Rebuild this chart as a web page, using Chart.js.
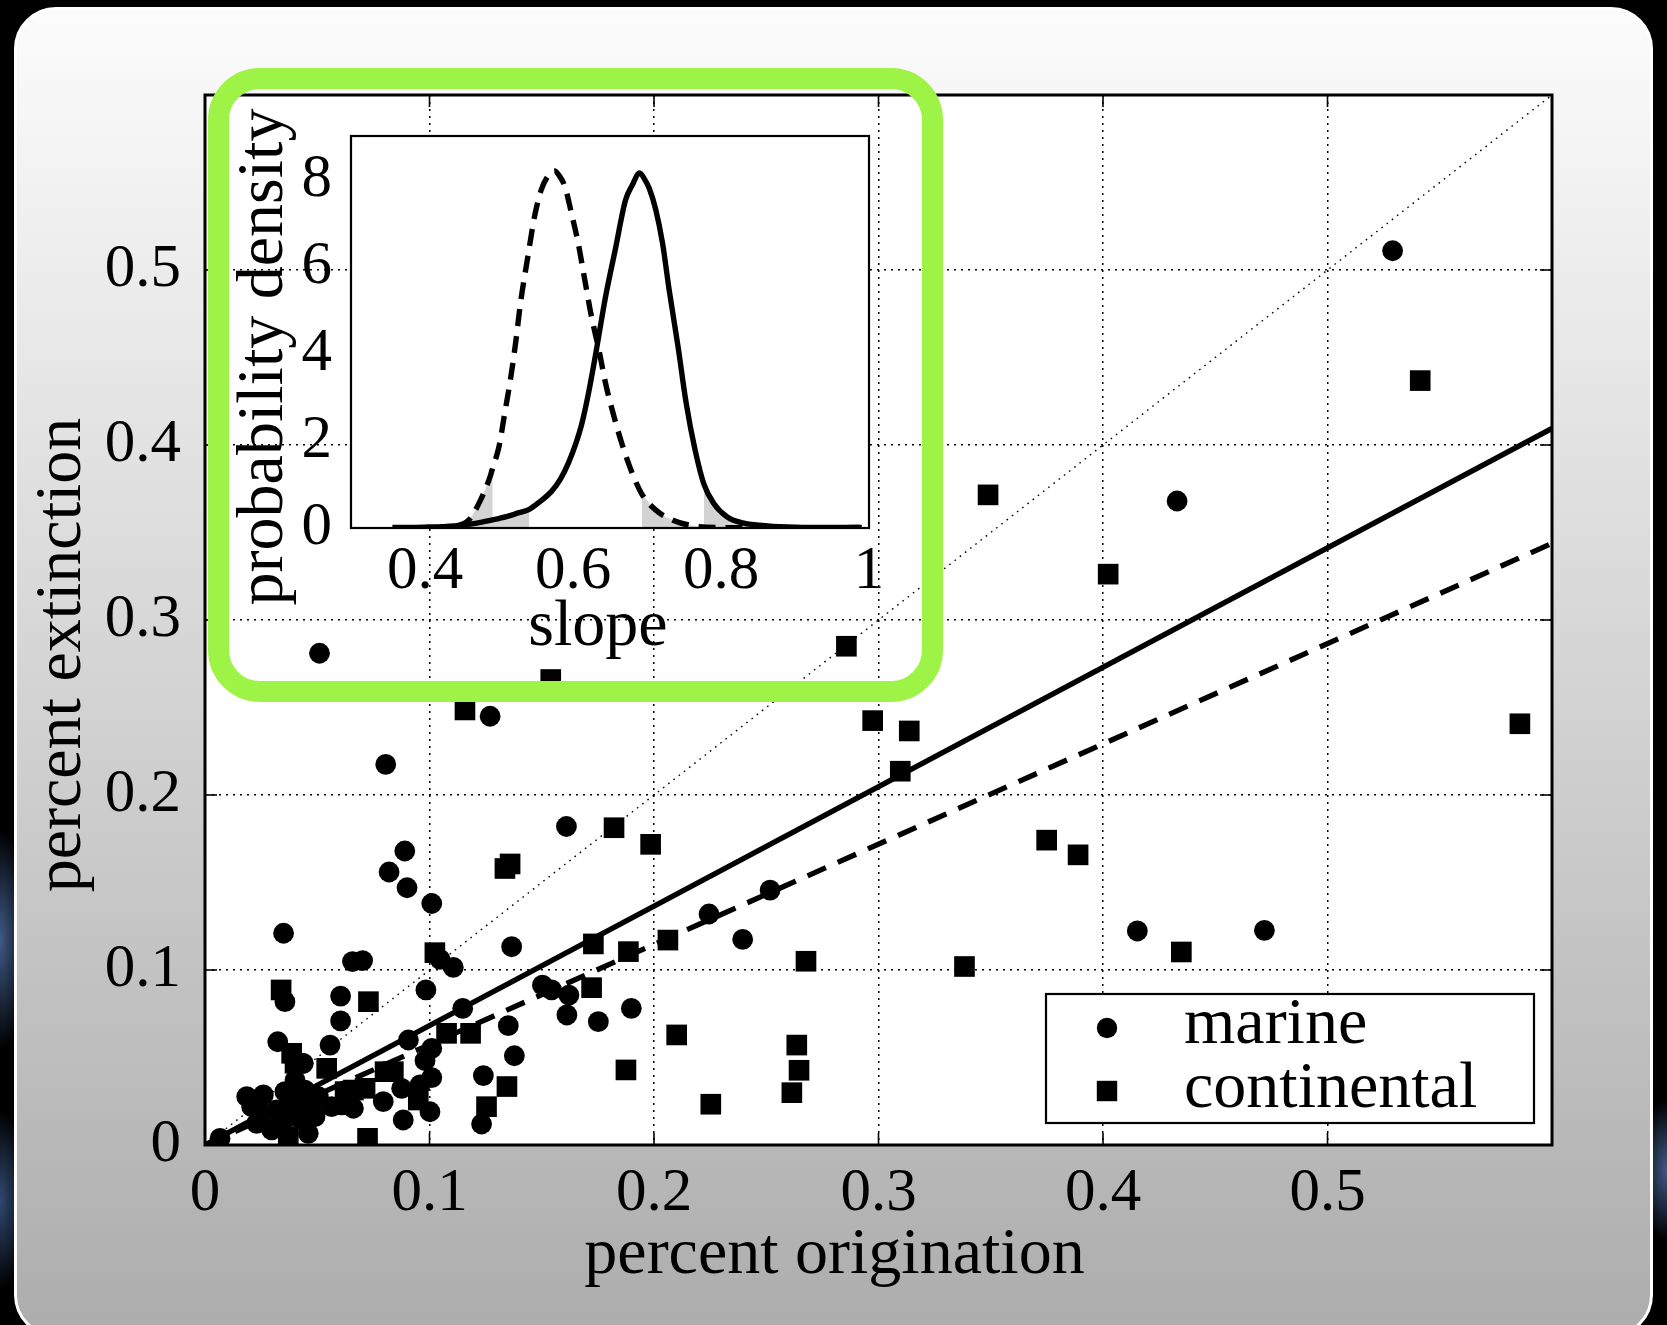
<!DOCTYPE html>
<html>
<head>
<meta charset="utf-8">
<script src="https://cdn.jsdelivr.net/npm/chart.js@4.4.0/dist/chart.umd.min.js"></script>
<style>
html,body{margin:0;padding:0;width:1667px;height:1325px;overflow:hidden;}
body{background:
  radial-gradient(30px 110px at 0px 940px, rgba(70,100,150,0.9), rgba(0,0,0,0)),
  radial-gradient(30px 90px at 0px 1200px, rgba(60,90,140,0.8), rgba(0,0,0,0)),
  radial-gradient(30px 70px at 1667px 1170px, rgba(70,100,150,0.9), rgba(0,0,0,0)),
  #000;position:relative;}
#panel{position:absolute;left:14px;top:7px;width:1639px;height:1330px;box-sizing:border-box;
  border:3px solid #fff;border-radius:42px;
  background:linear-gradient(to bottom,#fcfcfc 0px,#adadad 1318px);}
canvas{position:absolute;left:0;top:0;}
#greenbox{position:absolute;left:208px;top:68px;width:735px;height:634px;box-sizing:border-box;
  border:21px solid #9ef446;border-radius:52px;pointer-events:none;}
</style>
</head>
<body>
<div id="panel"></div>
<canvas id="mainChart" width="1667" height="1325"></canvas>
<canvas id="insetChart" width="1667" height="1325"></canvas>
<div id="greenbox"></div>
<script>
// ---------------- DATA ----------------
const legendLabels = ['marine', 'continental'];
const xAxisTitle = 'percent origination';
const yAxisTitle = 'percent extinction';
const xTickValues = [0, 0.1, 0.2, 0.3, 0.4, 0.5, 0.6];
const xTickLabels = ['0', '0.1', '0.2', '0.3', '0.4', '0.5', ''];
const yTickValues = [0, 0.1, 0.2, 0.3, 0.4, 0.5, 0.6];
const yTickLabels = ['0', '0.1', '0.2', '0.3', '0.4', '0.5', ''];

const marineOrigination = [0.051,0.529,0.433,0.127,0.0805,0.161,0.089,0.082,0.090,0.101,0.035,0.2517,0.2245,0.2395,0.1366,0.4153,0.4719,
  0.0657,0.0702,0.1047,0.1106,0.0984,0.1503,0.1544,0.1621,0.1148,0.1899,0.1612,0.1752,0.1351,0.0604,0.0604,0.0356,0.0906,0.101,0.1378,
  0.098,0.124,0.101,0.0324,0.0557,0.0438,0.0876,0.0958,0.0794,0.0883,0.1002,0.1232,0.0661,0.0609,0.0564,0.0475,0.046,0.0297,0.0186,
  0.026,0.023,0.0067,0.0356,0.0401,0.0445,0.0319,0.0371,0.0505,0.026,0.0208,0.0393,0.043,0.049];
const marineExtinction = [0.281,0.511,0.368,0.245,0.2175,0.182,0.168,0.156,0.147,0.138,0.121,0.1457,0.132,0.1175,0.1133,0.1223,0.1227,
  0.1048,0.1054,0.1061,0.1015,0.0886,0.0914,0.0886,0.0857,0.0781,0.0781,0.0743,0.0705,0.0682,0.0851,0.0709,0.0819,0.060,0.0552,0.051,
  0.0482,0.0397,0.0385,0.059,0.0571,0.0467,0.0324,0.0343,0.0248,0.0143,0.019,0.012,0.021,0.0229,0.0219,0.0219,0.0067,0.0086,0.0276,
  0.0286,0.0124,0.0038,0.0305,0.0371,0.0314,0.020,0.0162,0.0276,0.018,0.0219,0.0257,0.0143,0.0162];

const continentalOrigination = [0.5413,0.3488,0.4023,0.2857,0.154,0.1158,0.2974,0.3137,0.3097,0.5857,0.1822,0.1985,0.1336,0.1359,0.3749,
  0.3889,0.173,0.1886,0.2062,0.1024,0.2677,0.3383,0.4349,0.1722,0.1076,0.1183,0.2101,0.2636,0.2646,0.1875,0.2614,0.2253,0.0339,0.0728,
  0.0386,0.0542,0.0802,0.0839,0.0713,0.095,0.1254,0.0724,0.0661,0.0371,0.0401,0.0445,0.0371,0.0341,0.0624,0.1345];
const continentalExtinction = [0.4368,0.3715,0.3262,0.285,0.266,0.2486,0.2425,0.2366,0.2136,0.2407,0.1813,0.1718,0.158,0.1606,0.1742,
  0.1658,0.1149,0.1105,0.1171,0.1099,0.105,0.102,0.1103,0.0899,0.0638,0.0638,0.0629,0.0571,0.0427,0.0429,0.0299,0.0233,0.0886,0.0819,
  0.0524,0.0438,0.0419,0.0419,0.0324,0.0257,0.0219,0.0038,0.0314,0.0048,0.0467,0.0257,0.020,0.0105,0.0305,0.0334];

// fitted lines (end points)
const fitLineX = [0, 0.6];
const solidFitY = [0, 0.4095];
const dashedFitY = [0, 0.3438];
const identityY = [0, 0.6];

// inset: posterior densities of the slope
const insetXTitle = 'slope';
const insetYTitle = 'probability density';
const insetXTickValues = [0.4, 0.6, 0.8, 1.0];
const insetXTickLabels = ['0.4', '0.6', '0.8', '1'];
const insetYTickValues = [0, 2, 4, 6, 8];
const insetYTickLabels = ['0', '2', '4', '6', '8'];
const solidSlope = [0.356,0.40,0.44,0.47,0.49,0.51,0.525,0.541,0.555,0.571,0.583,0.594,0.604,0.612,0.621,0.630,0.644,0.657,0.671,0.680,
  0.690,0.697,0.703,0.712,0.721,0.730,0.742,0.753,0.765,0.777,0.790,0.808,0.831,0.863,0.90,0.95,0.985,0.99];
const solidDensity = [0.01,0.02,0.05,0.11,0.18,0.26,0.34,0.43,0.6,0.84,1.12,1.5,1.95,2.4,3.1,3.93,5.31,6.38,7.53,7.87,
  8.15,8.0,7.8,7.3,6.54,5.46,4.16,2.86,1.79,1.0,0.57,0.26,0.11,0.05,0.02,0.01,0.02,0.01];
const dashedSlope = [0.406,0.443,0.459,0.475,0.488,0.4915,0.500,0.507,0.516,0.523,0.529,0.539,0.548,0.557,0.568,0.575,0.581,0.589,0.598,
  0.607,0.616,0.625,0.635,0.644,0.653,0.666,0.680,0.693,0.712,0.735,0.762,0.794,0.98];
const dashedDensity = [0.0,0.05,0.18,0.64,1.18,1.38,1.87,2.56,3.47,4.32,5.16,6.23,7.15,7.76,8.12,8.2,8.1,7.84,7.22,
  6.54,5.69,4.85,4.09,3.32,2.71,1.94,1.26,0.78,0.41,0.18,0.05,0.01,0.0];
const solidTailBounds = [0.541, 0.777];
const dashedTailBounds = [0.4915, 0.693];

// ---------------- DRAWING ----------------
const FONT = "'Liberation Serif', 'Times New Roman', serif";
const zip = (xs, ys) => xs.map((x, i) => ({x: x, y: ys[i]}));

function drawMain() {
  const whiteArea = {
    id: 'whiteArea',
    beforeDraw(chart) {
      const a = chart.chartArea, c = chart.ctx;
      c.save(); c.fillStyle = '#fff'; c.fillRect(a.left, a.top, a.right - a.left, a.bottom - a.top); c.restore();
    }
  };
  const frame = {
    id: 'frame',
    afterDraw(chart) {
      const a = chart.chartArea, c = chart.ctx, xs = chart.scales.x, ys = chart.scales.y;
      c.save();
      c.strokeStyle = '#000'; c.lineWidth = 1.6; c.setLineDash([]);
      const seg = (x1, y1, x2, y2) => { c.beginPath(); c.moveTo(x1, y1); c.lineTo(x2, y2); c.stroke(); };
      xs.ticks.forEach(t => {
        if (t.value <= xs.min || t.value >= xs.max) return;
        const p = xs.getPixelForValue(t.value);
        seg(p, a.bottom, p, a.bottom - 12); seg(p, a.top, p, a.top + 12);
      });
      ys.ticks.forEach(t => {
        if (t.value <= ys.min || t.value >= ys.max) return;
        const p = ys.getPixelForValue(t.value);
        seg(a.left, p, a.left + 12, p); seg(a.right, p, a.right - 12, p);
      });
      c.lineWidth = 3;
      c.strokeRect(a.left, a.top, a.right - a.left, a.bottom - a.top);
      // axis titles
      c.fillStyle = '#000';
      c.font = '66px ' + FONT;
      c.textAlign = 'center'; c.textBaseline = 'alphabetic';
      c.fillText(xAxisTitle, (a.left + a.right) / 2 - 44, 1273);
      c.save();
      c.translate(80, (a.top + a.bottom) / 2 + 35);
      c.rotate(-Math.PI / 2);
      c.fillText(yAxisTitle, 0, 0);
      c.restore();
      // legend
      const lx = 1046, ly = 994, lw = 488, lh = 129;
      c.fillStyle = '#fff'; c.fillRect(lx, ly, lw, lh);
      c.lineWidth = 2.2; c.strokeStyle = '#000'; c.strokeRect(lx, ly, lw, lh);
      c.fillStyle = '#000';
      c.beginPath(); c.arc(1107, 1028, 10.2, 0, Math.PI * 2); c.fill();
      c.fillRect(1107 - 10.2, 1091 - 10.2, 20.4, 20.4);
      c.textAlign = 'left';
      c.fillText(legendLabels[0], 1184, 1043);
      c.fillText(legendLabels[1], 1184, 1107);
      c.restore();
    }
  };
  new Chart(document.getElementById('mainChart'), {
    type: 'scatter',
    data: {
      datasets: [
        {label: legendLabels[0], data: zip(marineOrigination, marineExtinction), pointStyle: 'circle',
          pointRadius: 10.4, backgroundColor: '#000', borderWidth: 0, clip: 0},
        {label: legendLabels[1], data: zip(continentalOrigination, continentalExtinction), pointStyle: 'rect',
          pointRadius: 14.6, backgroundColor: '#000', borderWidth: 0, clip: 0},
        {label: 'fit solid', data: zip(fitLineX, solidFitY), showLine: true, pointRadius: 0,
          borderColor: '#000', borderWidth: 5.3, clip: 0},
        {label: 'fit dashed', data: zip(fitLineX, dashedFitY), showLine: true, pointRadius: 0,
          borderColor: '#000', borderWidth: 5.3, borderDash: [20, 13], clip: 0},
        {label: 'identity', data: zip(fitLineX, identityY), showLine: true, pointRadius: 0,
          borderColor: '#000', borderWidth: 1.4, borderDash: [1.6, 5], clip: 0}
      ]
    },
    options: {
      responsive: false, animation: false, devicePixelRatio: 1,
      layout: {padding: {left: 0, top: 95, right: 115, bottom: 0}},
      plugins: {legend: {display: false}, tooltip: {enabled: false}},
      scales: {
        x: {
          type: 'linear', min: 0, max: 0.6,
          afterBuildTicks: s => { s.ticks = xTickValues.map(v => ({value: v})); },
          afterFit: s => { s.height = 180; },
          ticks: {autoSkip: false, maxRotation: 0, minRotation: 0, padding: 12, color: '#000',
            font: {family: FONT, size: 61}, callback: (v, i) => xTickLabels[i]},
          grid: {color: '#000', lineWidth: 1.5, drawTicks: false},
          border: {display: false, dash: [2, 5]}
        },
        y: {
          type: 'linear', min: 0, max: 0.6,
          afterBuildTicks: s => { s.ticks = yTickValues.map(v => ({value: v})); },
          afterFit: s => { s.width = 205; },
          ticks: {autoSkip: false, padding: 24, color: '#000',
            font: {family: FONT, size: 61}, callback: (v, i) => yTickLabels[i]},
          grid: {color: '#000', lineWidth: 1.5, drawTicks: false},
          border: {display: false, dash: [2, 5]}
        }
      }
    },
    plugins: [whiteArea, frame]
  });
}

function drawInset() {
  const whiteArea = {
    id: 'insetWhite',
    beforeDraw(chart) {
      const a = chart.chartArea, c = chart.ctx;
      c.save(); c.fillStyle = '#fff'; c.fillRect(a.left, a.top, a.right - a.left, a.bottom - a.top); c.restore();
    }
  };
  const frame = {
    id: 'insetFrame',
    afterDraw(chart) {
      const a = chart.chartArea, c = chart.ctx;
      c.save();
      c.strokeStyle = '#000'; c.lineWidth = 2.2;
      c.strokeRect(a.left, a.top, a.right - a.left, a.bottom - a.top);
      c.fillStyle = '#000'; c.font = '66px ' + FONT;
      c.textAlign = 'center'; c.textBaseline = 'alphabetic';
      c.fillText(insetXTitle, (a.left + a.right) / 2 - 12, 645);
      c.translate(282, (a.top + a.bottom) / 2 + 25);
      c.rotate(-Math.PI / 2);
      c.fillText(insetYTitle, 0, 0);
      c.restore();
    }
  };
  const solid = zip(solidSlope, solidDensity);
  const dashed = zip(dashedSlope, dashedDensity);
  const tail = (pts) => ({data: pts, fill: 'origin', backgroundColor: '#d3d3d3', borderWidth: 0,
    pointRadius: 0, order: 2, cubicInterpolationMode: 'monotone'});
  new Chart(document.getElementById('insetChart'), {
    type: 'line',
    data: {
      datasets: [
        {label: 'solid', data: solid, borderColor: '#000', borderWidth: 5.4, pointRadius: 0, fill: false,
          cubicInterpolationMode: 'monotone', order: 1},
        {label: 'dashed', data: dashed, borderColor: '#000', borderWidth: 5.4, borderDash: [17, 10], pointRadius: 0,
          fill: false, cubicInterpolationMode: 'monotone', order: 1},
        tail(solid.filter(p => p.x <= solidTailBounds[0])),
        tail(solid.filter(p => p.x >= solidTailBounds[1])),
        tail(dashed.filter(p => p.x <= dashedTailBounds[0])),
        tail(dashed.filter(p => p.x >= dashedTailBounds[1]))
      ]
    },
    options: {
      responsive: false, animation: false, devicePixelRatio: 1,
      layout: {padding: {left: 0, top: 136, right: 798, bottom: 0}},
      plugins: {legend: {display: false}, tooltip: {enabled: false}},
      scales: {
        x: {
          type: 'linear', min: 0.3, max: 1.0,
          afterBuildTicks: s => { s.ticks = insetXTickValues.map(v => ({value: v})); },
          afterFit: s => { s.height = 797; },
          ticks: {autoSkip: false, maxRotation: 0, minRotation: 0, padding: 7, color: '#000',
            font: {family: FONT, size: 61}, callback: (v, i) => insetXTickLabels[i]},
          grid: {display: false, drawTicks: false},
          border: {display: false}
        },
        y: {
          type: 'linear', min: 0, max: 9,
          afterBuildTicks: s => { s.ticks = insetYTickValues.map(v => ({value: v})); },
          afterFit: s => { s.width = 351; },
          ticks: {autoSkip: false, padding: 19, color: '#000',
            font: {family: FONT, size: 61}, callback: (v, i) => insetYTickLabels[i]},
          grid: {display: false, drawTicks: false},
          border: {display: false}
        }
      }
    },
    plugins: [whiteArea, frame]
  });
}

function go() { drawMain(); drawInset(); }
if (document.fonts && document.fonts.load) {
  Promise.all([document.fonts.load("61px 'Liberation Serif'"), document.fonts.load("66px 'Liberation Serif'")])
    .then(go, go);
} else { go(); }
</script>
</body>
</html>
